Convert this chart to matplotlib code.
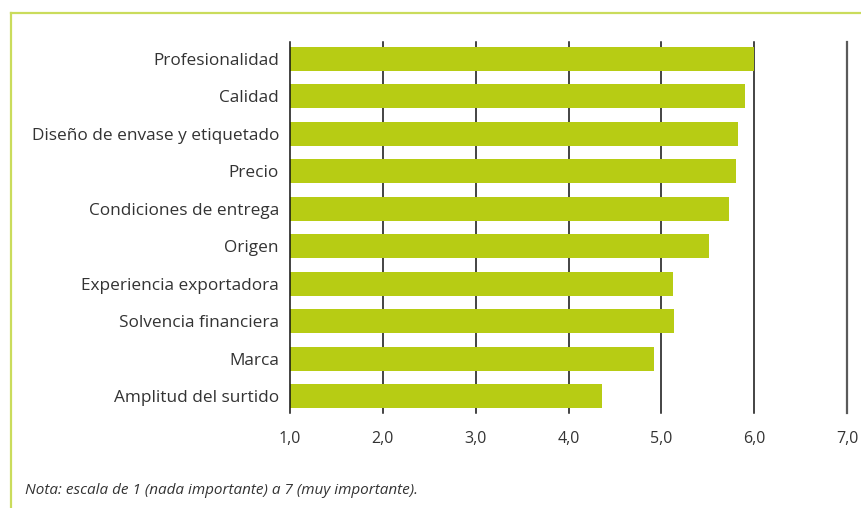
import matplotlib.pyplot as plt
from matplotlib.lines import Line2D

categories = [
    "Profesionalidad",
    "Calidad",
    "Diseño de envase y etiquetado",
    "Precio",
    "Condiciones de entrega",
    "Origen",
    "Experiencia exportadora",
    "Solvencia financiera",
    "Marca",
    "Amplitud del surtido",
]
scores = [6.0, 5.90, 5.83, 5.80, 5.73, 5.51, 5.13, 5.14, 4.92, 4.36]
xticks = [1, 2, 3, 4, 5, 6, 7]
xtick_labels = ["1,0", "2,0", "3,0", "4,0", "5,0", "6,0", "7,0"]
note = "Nota: escala de 1 (nada importante) a 7 (muy importante)."

BAR = "#b7cc14"
FRAME = "#cadc5c"
TEXT = "#333333"

plt.rcParams["font.family"] = ["Open Sans", "DejaVu Sans"]

fig = plt.figure(figsize=(8.61, 5.08), dpi=100)
ax = fig.add_axes([290 / 861, 1 - 413 / 508, (847 - 290) / 861, (413 - 42) / 508])

positions = list(range(len(categories)))
ax.barh(positions, [s - 1 for s in scores], left=1, height=0.64, color=BAR, zorder=1)

for x in xticks[1:]:
    ax.axvline(x, color="#111111" if x < 7 else "#5a5a5a", lw=1.1 if x < 7 else 1.6,
               zorder=0, clip_on=False)
ax.axvline(1, color="#111111", lw=1.1, zorder=2, clip_on=False)

ax.set_xlim(1, 7.0)
ax.set_ylim(len(categories) - 0.55, -0.45)
ax.set_yticks(positions)
ax.set_yticklabels(categories, fontsize=12.4, color=TEXT)
ax.set_xticks(xticks)
ax.set_xticklabels(xtick_labels, fontsize=11.5, color=TEXT)
ax.tick_params(length=0, pad=8)
ax.tick_params(axis="x", pad=13)
for side in ax.spines.values():
    side.set_visible(False)

fig.add_artist(Line2D([11 / 861, 1], [1 - 13 / 508] * 2, color=FRAME, lw=1.6, transform=fig.transFigure))
fig.add_artist(Line2D([11 / 861] * 2, [0, 1 - 13 / 508], color=FRAME, lw=1.6, transform=fig.transFigure))
fig.text(25 / 861, 1 - 490 / 508, note, fontsize=11, style="italic", color=TEXT, va="center")

fig.savefig("out.png", dpi=100)
